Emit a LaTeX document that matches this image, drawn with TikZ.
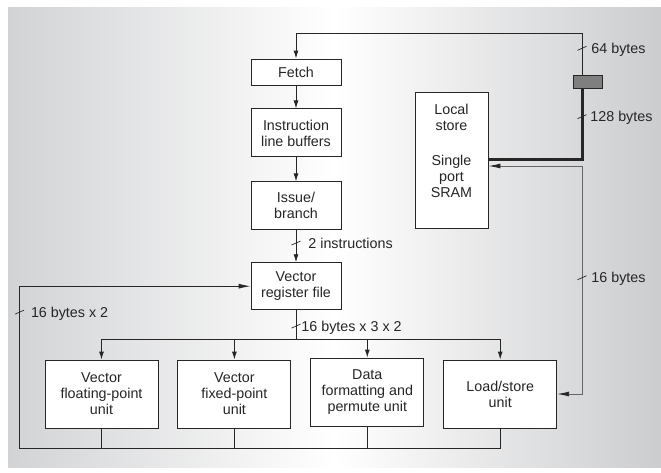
\documentclass[tikz,border=0pt]{standalone}
\usepackage{fontspec}
\setmainfont{Liberation Sans}
\usetikzlibrary{positioning,calc,arrows.meta}

\definecolor{bgedge}{HTML}{D2D3D5}
\definecolor{memgray}{HTML}{7F7F7F}

\begin{document}
\begin{tikzpicture}[
    x=1pt, y=1pt,
    color=black!85,
    font=\fontsize{14.3}{16}\selectfont,
    line width=0.9pt,
    box/.style={rectangle, draw, fill=white, align=center, minimum width=90pt, inner sep=2pt},
    unit/.style={box, minimum width=113pt, minimum height=68pt},
    arrow/.style={-{Latex[length=8pt,width=5pt]}},
    longarrow/.style={-{Latex[length=12pt,width=5pt]}},
    dblarrow/.style={draw=black!60, {Latex[length=12pt,width=5pt,color=black!85]}-{Latex[length=12pt,width=5pt,color=black!85]}},
    tick/.style={line width=0.7pt},
    lbl/.style={inner sep=0pt, anchor=base west}
]

\useasboundingbox (0,0) rectangle (661,-472);
\shade[left color=bgedge, right color=bgedge!97!black, middle color=white] (8,-7) rectangle (661,-467);

\node[box, minimum height=26pt] (fetch) at (296,-72) {Fetch};
\node[box, minimum height=48pt, below=23pt of fetch] (buffers) {Instruction\\line buffers};
\node[box, minimum height=48pt, below=24pt of buffers] (issue) {Issue/\\branch};
\node[box, minimum height=47pt, below=32pt of issue] (regfile) {Vector\\register file};
\node[box, minimum width=73pt, minimum height=136pt] (store) at (451.5,-160) {};
\node[align=center, inner sep=0pt] (storetext) at ([yshift=9pt]store.center) {Local\\store\\[19pt]Single\\port\\SRAM};
\node[draw, fill=memgray, minimum width=29pt, minimum height=13pt, inner sep=0pt] (mem) at (587.5,-81.5) {};

\node[unit] (fpu) at (101.5,-394) {Vector\\floating-point\\unit};
\node[unit, right=19pt of fpu] (fxu) {Vector\\fixed-point\\unit};
\node[unit, right=19pt of fxu, yshift=2pt] (perm) {Data\\formatting and\\permute unit};
\node[unit, right=19pt of perm, yshift=-2pt] (lsu) {Load/store\\unit};

\coordinate (rail) at ([xshift=-5.5pt]mem.center);
\coordinate (fan) at ([yshift=-29pt]regfile.south);
\coordinate (loop) at ([shift={(-25pt,-20pt)}]fpu.south west);

\draw[arrow] (fetch) -- (buffers);
\draw[arrow] (buffers) -- (issue);
\draw[arrow] (issue) -- coordinate[pos=.4] (t2) (regfile);
\draw[arrow] (rail |- mem.north) |- coordinate[pos=.32] (t64) ([yshift=25pt]fetch.north) -- (fetch.north);
\draw[line width=3pt] (rail |- mem.south) |- coordinate[pos=.2] (t128) ([yshift=1pt]store.east);
\draw[dblarrow] ([yshift=-6pt]store.east) -| coordinate[pos=.745] (t16) (rail |- lsu.east) -- (lsu.east);

\draw (regfile) -- coordinate[pos=.55] (t3) (fan);
\draw (fpu.north |- fan) -- (lsu.north |- fan);
\foreach \u in {fpu,fxu,perm,lsu}
    \draw[arrow] (\u.north |- fan) -- (\u.north);

\draw[longarrow] (lsu.south) |- (loop) |- coordinate[pos=.42] (t4) (regfile.west);
\foreach \u in {fpu,fxu,perm}
    \draw (\u.south) -- (\u.south |- loop);

\foreach \t in {t64,t128,t16,t2,t3,t4}
    \draw[tick] ([shift={(-4.5,-2)}]\t) -- ([shift={(4.5,2)}]\t);

\node[lbl] (l64) at ([shift={(9,-5)}]t64) {64 bytes};
\node[lbl] (l128) at ([shift={(8,-5)}]t128) {128 bytes};
\node[lbl] (l16) at ([shift={(9,-5)}]t16) {16 bytes};
\node[lbl] (l2) at ([shift={(12,-5)}]t2) {2 instructions};
\node[lbl] (l3) at ([shift={(5,-5)}]t3) {16 bytes x 3 x 2};
\node[lbl] (l4) at ([shift={(11,-5)}]t4) {16 bytes x 2};

\end{tikzpicture}
\end{document}
